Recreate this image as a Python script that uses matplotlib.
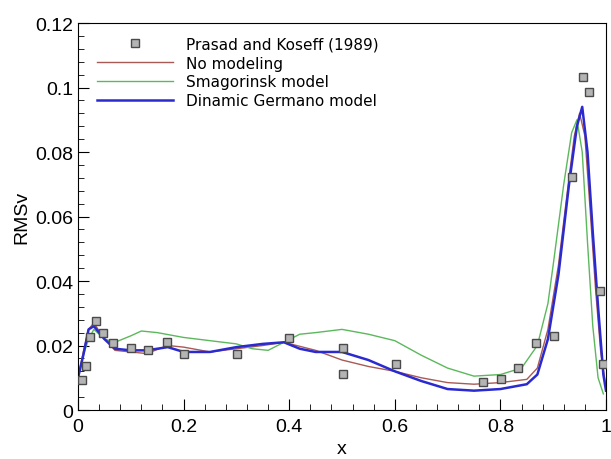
import numpy as np
import matplotlib.pyplot as plt
from matplotlib.ticker import MultipleLocator

# Experimental data (Prasad and Koseff, 1989)
exp_x = [0.007, 0.015, 0.023, 0.034, 0.047, 0.067, 0.100, 0.133, 0.168, 0.200,
         0.302, 0.400, 0.501, 0.501, 0.602, 0.767, 0.802, 0.834, 0.868, 0.902,
         0.935, 0.956, 0.968, 0.989, 0.994]
exp_v = [0.0094, 0.0137, 0.0227, 0.0277, 0.0238, 0.0208, 0.0191, 0.0187, 0.0212, 0.0174,
         0.0174, 0.0224, 0.0192, 0.0112, 0.0144, 0.0088, 0.0096, 0.0129, 0.0208, 0.0228,
         0.0722, 0.1033, 0.0987, 0.0368, 0.0142]

# No modeling
nm_x = [0.0, 0.01, 0.02, 0.03, 0.05, 0.07, 0.10, 0.13, 0.17, 0.20, 0.25, 0.30,
        0.35, 0.39, 0.45, 0.50, 0.55, 0.60, 0.65, 0.70, 0.75, 0.80, 0.85, 0.87,
        0.89, 0.91, 0.93, 0.94, 0.95, 0.96, 0.97, 0.98, 0.99, 1.0]
nm_v = [0.010, 0.018, 0.025, 0.027, 0.022, 0.0185, 0.018, 0.0175, 0.020, 0.0195, 0.018, 0.019,
        0.020, 0.021, 0.0185, 0.0155, 0.0135, 0.012, 0.010, 0.0085, 0.008, 0.0085, 0.0095, 0.013,
        0.025, 0.045, 0.072, 0.085, 0.092, 0.085, 0.062, 0.038, 0.018, 0.007]

# Smagorinsky model
sm_x = [0.0, 0.01, 0.02, 0.03, 0.05, 0.07, 0.10, 0.12, 0.15, 0.20, 0.25, 0.30,
        0.33, 0.36, 0.39, 0.42, 0.45, 0.50, 0.55, 0.60, 0.65, 0.70, 0.75, 0.80,
        0.84, 0.87, 0.89, 0.90, 0.92, 0.935, 0.945, 0.955, 0.965, 0.975, 0.985, 0.995]
sm_v = [0.010, 0.017, 0.022, 0.025, 0.022, 0.021, 0.023, 0.0245, 0.024, 0.0225, 0.0215, 0.0205,
        0.019, 0.0185, 0.021, 0.0235, 0.024, 0.025, 0.0235, 0.0215, 0.017, 0.013, 0.0105, 0.011,
        0.013, 0.020, 0.033, 0.045, 0.070, 0.086, 0.090, 0.080, 0.052, 0.026, 0.010, 0.005]

# Dynamic Germano model
dg_x = [0.0, 0.01, 0.02, 0.03, 0.05, 0.07, 0.10, 0.13, 0.17, 0.20, 0.25, 0.30,
        0.35, 0.39, 0.42, 0.45, 0.50, 0.55, 0.60, 0.65, 0.70, 0.75, 0.80, 0.85,
        0.87, 0.89, 0.91, 0.93, 0.945, 0.955, 0.965, 0.975, 0.985, 0.995, 1.0]
dg_v = [0.010, 0.017, 0.025, 0.026, 0.022, 0.019, 0.0185, 0.0185, 0.0195, 0.018, 0.018, 0.0195,
        0.0205, 0.021, 0.019, 0.018, 0.018, 0.0155, 0.012, 0.009, 0.0065, 0.006, 0.0065, 0.008,
        0.011, 0.022, 0.042, 0.070, 0.088, 0.094, 0.080, 0.055, 0.032, 0.011, 0.006]

x_ticks = [0, 0.2, 0.4, 0.6, 0.8, 1.0]
x_tick_labels = ["0", "0.2", "0.4", "0.6", "0.8", "1"]
y_ticks = [0, 0.02, 0.04, 0.06, 0.08, 0.1, 0.12]
y_tick_labels = ["0", "0.02", "0.04", "0.06", "0.08", "0.1", "0.12"]

fig = plt.figure(figsize=(6.11, 4.6), dpi=100)
ax = fig.add_axes([0.1277, 0.1065, 0.8641, 0.8413])

ax.plot(exp_x, exp_v, "s", ms=6, mfc="#b4b4b4", mec="#4a4a4a", mew=1.0,
        label="Prasad and Koseff (1989)", zorder=5)
ax.plot(nm_x, nm_v, color="#a85a55", lw=1.0, label="No modeling")
ax.plot(sm_x, sm_v, color="#5cb85c", lw=1.0, label="Smagorinsk model")
ax.plot(dg_x, dg_v, color="#2a2ad0", lw=1.8, label="Dinamic Germano model")

ax.set_xlim(0, 1)
ax.set_ylim(0, 0.12)
ax.set_xticks(x_ticks)
ax.set_xticklabels(x_tick_labels, fontfamily="Liberation Sans")
ax.set_yticks(y_ticks)
ax.set_yticklabels(y_tick_labels, fontfamily="Liberation Sans")
ax.xaxis.set_minor_locator(MultipleLocator(0.04))
ax.yaxis.set_minor_locator(MultipleLocator(0.004))
ax.tick_params(which="both", direction="in", top=False, right=False, labelsize=14)
ax.tick_params(which="major", length=8)
ax.tick_params(which="minor", length=4)
ax.tick_params(axis="x", pad=6)
ax.set_xlabel("x", fontsize=14, fontfamily="Liberation Sans", labelpad=3)
ax.set_ylabel("RMSv", fontsize=14, fontfamily="Liberation Sans", labelpad=3)

ax.legend(loc="upper left", frameon=False, fontsize=11, handlelength=5,
          handletextpad=0.8, labelspacing=0.25, borderaxespad=0.5,
          bbox_to_anchor=(0.01, 1.0))

fig.savefig("out.png", dpi=100)
